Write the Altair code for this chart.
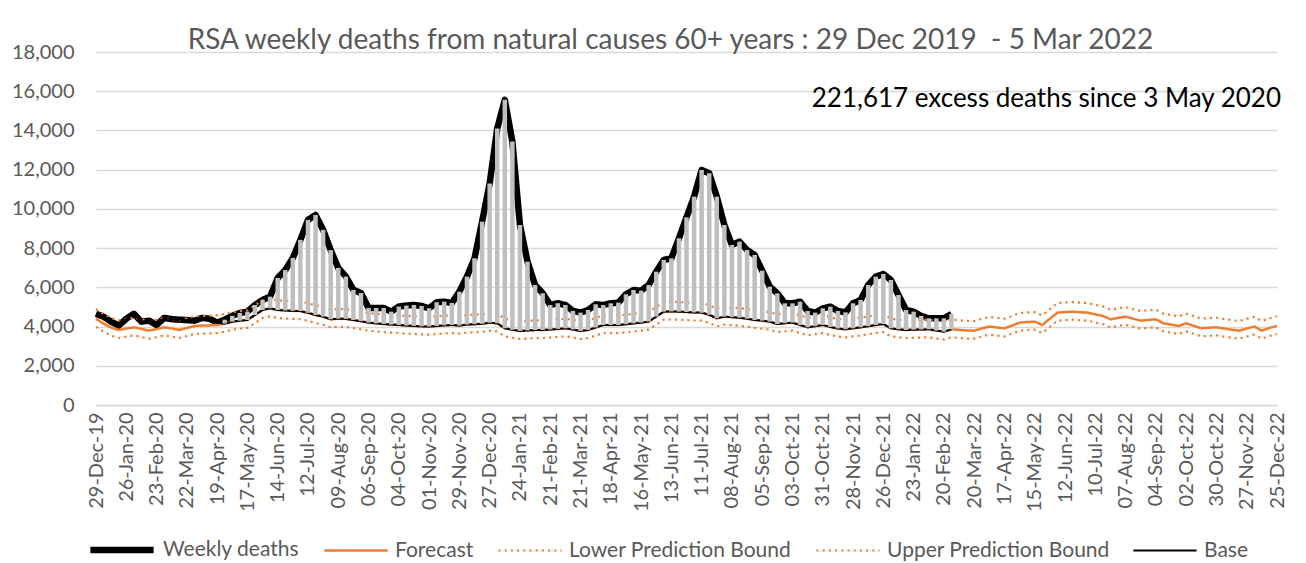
import altair as alt
import pandas as pd

# ---------------- data ----------------
week_start = "2019-12-29"
n_weeks = 157
weeks = [d.strftime("%Y-%m-%d") for d in pd.date_range(week_start, periods=n_weeks, freq="7D")]
tick_weeks = weeks[::4]

series_names = ["Weekly deaths", "Forecast", "Lower Prediction Bound", "Upper Prediction Bound", "Base"]
series_colors = ["#000000", "#ED7D31", "#ED7D31", "#ED7D31", "#000000"]

weekly_deaths = [
    4650, 4500, 4250, 4050, 4400, 4650, 4250, 4300, 4080, 4440,
    4380, 4350, 4330, 4300, 4440, 4400, 4200, 4350, 4550, 4690,
    4760, 5100, 5355, 5525, 6480, 6880, 7500, 8420, 9440, 9690,
    8930, 7900, 6990, 6550, 5870, 5710, 4950, 4950, 4950, 4760,
    5020, 5070, 5100, 5050, 4930, 5240, 5270, 5200, 5780, 6550,
    7480, 9350, 11300, 14100, 15560, 13430, 9180, 7310, 6120, 5700,
    5100, 5190, 5100, 4800, 4710, 4845, 5135, 5100, 5185, 5220,
    5645, 5865, 5830, 6120, 6800, 7395, 7480, 8500, 9570, 10625,
    11985, 11815, 10625, 9180, 8160, 8330, 7905, 7650, 6850, 6035,
    5695, 5185, 5185, 5270, 4795, 4710, 4930, 5015, 4795, 4725,
    5185, 5355, 6120, 6545, 6680, 6375, 5610, 4845, 4760, 4540,
    4420, 4420, 4420, 4640,
]

forecast = [
    4390, 4150, 3950, 3825, 3900, 3960, 3880, 3790, 3870, 3960,
    3900, 3825, 3930, 4030, 4050, 4060, 4080, 4150, 4250, 4300,
    4335, 4590, 4845, 4930, 4845, 4820, 4800, 4790, 4700, 4590,
    4505, 4370, 4400, 4390, 4335, 4270, 4200, 4160, 4130, 4100,
    4080, 4050, 4030, 4010, 4000, 4030, 4060, 4080, 4050, 4100,
    4120, 4140, 4200, 4165, 3910, 3840, 3775, 3800, 3820, 3825,
    3850, 3880, 3910, 3850, 3775, 3825, 3950, 4080, 4080, 4080,
    4120, 4160, 4200, 4250, 4505, 4760, 4770, 4760, 4740, 4720,
    4710, 4600, 4420, 4505, 4480, 4450, 4400, 4335, 4300, 4250,
    4130, 4170, 4200, 4080, 3960, 4020, 4080, 3980, 3900, 3860,
    3910, 3960, 4020, 4080, 4130, 3910, 3860, 3825, 3840, 3850,
    3860, 3800, 3740, 3860, 3830, 3800, 3790, 3900, 4000, 3950,
    3910, 4050, 4200, 4230, 4250, 4080, 4400, 4710, 4740, 4760,
    4730, 4710, 4620, 4540, 4370, 4440, 4505, 4400, 4300, 4340,
    4370, 4165, 4100, 4030, 4165, 4040, 3910, 3940, 3960, 3900,
    3840, 3790, 3900, 4000, 3790, 3930, 4030,
]

lower_bound = [
    3980, 3740, 3540, 3415, 3490, 3550, 3470, 3380, 3460, 3550,
    3490, 3415, 3520, 3620, 3640, 3650, 3670, 3740, 3840, 3890,
    3925, 4180, 4435, 4520, 4435, 4410, 4390, 4380, 4290, 4180,
    4095, 3960, 3990, 3980, 3925, 3860, 3790, 3750, 3720, 3690,
    3670, 3640, 3620, 3600, 3590, 3620, 3650, 3670, 3640, 3690,
    3710, 3730, 3790, 3755, 3500, 3430, 3365, 3390, 3410, 3415,
    3440, 3470, 3500, 3440, 3365, 3415, 3540, 3670, 3670, 3670,
    3710, 3750, 3790, 3840, 4095, 4350, 4360, 4350, 4330, 4310,
    4300, 4190, 4010, 4095, 4070, 4040, 3990, 3925, 3890, 3840,
    3720, 3760, 3790, 3670, 3550, 3610, 3670, 3570, 3490, 3450,
    3500, 3550, 3610, 3670, 3720, 3500, 3450, 3415, 3430, 3440,
    3450, 3390, 3330, 3450, 3420, 3390, 3380, 3490, 3590, 3540,
    3500, 3640, 3790, 3820, 3840, 3670, 3990, 4300, 4330, 4350,
    4320, 4300, 4210, 4130, 3960, 4030, 4095, 3990, 3890, 3930,
    3960, 3755, 3690, 3620, 3755, 3630, 3500, 3530, 3550, 3490,
    3430, 3380, 3490, 3590, 3380, 3520, 3620,
]

upper_bound = [
    4880, 4640, 4440, 4315, 4390, 4450, 4370, 4280, 4360, 4450,
    4390, 4315, 4420, 4520, 4540, 4550, 4570, 4640, 4740, 4790,
    4825, 5080, 5335, 5420, 5335, 5310, 5290, 5280, 5190, 5080,
    4995, 4860, 4890, 4880, 4825, 4760, 4690, 4650, 4620, 4590,
    4570, 4540, 4520, 4500, 4490, 4520, 4550, 4570, 4540, 4590,
    4610, 4630, 4690, 4655, 4400, 4330, 4265, 4290, 4310, 4315,
    4340, 4370, 4400, 4340, 4265, 4315, 4440, 4570, 4570, 4570,
    4610, 4650, 4690, 4740, 4995, 5250, 5260, 5250, 5230, 5210,
    5200, 5090, 4910, 4995, 4970, 4940, 4890, 4825, 4790, 4740,
    4620, 4660, 4690, 4570, 4450, 4510, 4570, 4470, 4390, 4350,
    4400, 4450, 4510, 4570, 4620, 4400, 4350, 4315, 4330, 4340,
    4350, 4290, 4230, 4350, 4320, 4290, 4280, 4390, 4490, 4440,
    4400, 4540, 4690, 4720, 4740, 4570, 4890, 5200, 5230, 5250,
    5220, 5200, 5110, 5030, 4860, 4930, 4995, 4890, 4790, 4830,
    4860, 4655, 4590, 4520, 4655, 4530, 4400, 4430, 4450, 4390,
    4330, 4280, 4390, 4490, 4280, 4420, 4520,
]

# Base = observed deaths before the excess period (3 May 2020), forecast afterwards
excess_start = 17
base = weekly_deaths[:excess_start] + forecast[excess_start:len(weekly_deaths)]

title_text = "RSA weekly deaths from natural causes 60+ years : 29 Dec 2019\u00a0\u00a0- 5 Mar 2022"
note_text = "221,617 excess deaths since 3 May 2020"
note_week = weeks[-1]
note_value = 15600

y_ticks = list(range(0, 18001, 2000))

# ---------------- tables ----------------
series_values = [weekly_deaths, forecast, lower_bound, upper_bound, base]
rows = []
for name, vals in zip(series_names, series_values):
    for i, v in enumerate(vals):
        rows.append({"week": weeks[i], "series": name, "deaths": v})
long_df = pd.DataFrame(rows)

bars_df = pd.DataFrame({
    "week": weeks[excess_start:len(weekly_deaths)],
    "deaths": base[excess_start:],
    "observed": weekly_deaths[excess_start:],
})
note_df = pd.DataFrame({"week": [note_week], "deaths": [note_value], "label": [note_text]})

FONT = "Lato"
GREY = "#595959"

x_axis = alt.Axis(
    values=[alt.DateTime(year=int(w[:4]), month=int(w[5:7]), date=int(w[8:]), utc=True) for w in tick_weeks],
    labelExpr="utcFormat(datum.value, '%d-%b-%y')",
    labelAngle=-90, labelAlign="right", labelBaseline="middle",
    labelFont=FONT, labelFontSize=20, labelColor=GREY, labelPadding=7,
    grid=False, ticks=False, domain=True, domainColor="#d9d9d9", domainWidth=1.5,
    title=None, labelOverlap=False,
)
x_scale = alt.Scale(type="utc", domain=[weeks[0], weeks[-1]], nice=False)
x_enc = alt.X("week:T", scale=x_scale, axis=x_axis)

y_axis = alt.Axis(
    values=y_ticks, labelExpr="format(datum.value, ',.0f')", labelFont=FONT, labelFontSize=20,
    labelColor=GREY, labelPadding=22, grid=True, gridColor="#d9d9d9", gridWidth=1.5,
    domain=False, ticks=False, title=None,
)
y_scale = alt.Scale(domain=[0, 18000], nice=False)
y_enc = alt.Y("deaths:Q", scale=y_scale, axis=y_axis)

color_enc = alt.Color("series:N", scale=alt.Scale(domain=series_names, range=series_colors),
                      legend=alt.Legend(title=None))
dash_enc = alt.StrokeDash("series:N", scale=alt.Scale(domain=series_names,
                          range=[[1, 0], [1, 0], [2.2, 4], [2.2, 4], [1, 0]]), legend=alt.Legend(title=None))
width_enc = alt.StrokeWidth("series:N", scale=alt.Scale(type="ordinal", domain=series_names,
                            range=[6.5, 2.5, 2.2, 2.2, 2]), legend=alt.Legend(title=None))


def series_layer(name):
    return (
        alt.Chart(long_df)
        .transform_filter(alt.datum.series == name)
        .mark_line(strokeJoin="round")
        .encode(x=x_enc, y=y_enc, color=color_enc, strokeDash=dash_enc, strokeWidth=width_enc)
    )


layers = [series_layer(n) for n in series_names]

bars = alt.Chart(bars_df).mark_rule(color="#BFBFBF", strokeWidth=4.5).encode(
    x=x_enc, y=y_enc, y2="observed:Q"
)

note = alt.Chart(note_df).mark_text(
    align="right", baseline="middle", font=FONT, fontSize=26, color="#000000", dx=4
).encode(x=x_enc, y=y_enc, text="label:N")

chart = (
    alt.layer(*layers, bars, note)
    .properties(
        width=1181, height=353,
        autosize=alt.AutoSizeParams(type="none"),
        padding={"left": 88, "top": 44, "right": 21, "bottom": 158},
        title=alt.TitleParams(
            text=title_text, font=FONT, fontSize=28, fontWeight="normal", color=GREY,
            anchor="middle", frame="group", dx=-16, offset=2, dy=15,
        ),
    )
    .configure_view(stroke=None)
    .configure_legend(
        orient="none", legendX=-9, legendY=463, direction="horizontal",
        symbolType="stroke", symbolSize=4000, labelFont=FONT, labelFontSize=21,
        labelColor=GREY, columnPadding=19, labelOffset=6, labelLimit=400,
    )
)

chart.save("out.html", embed_options={"renderer": "svg", "actions": False})
